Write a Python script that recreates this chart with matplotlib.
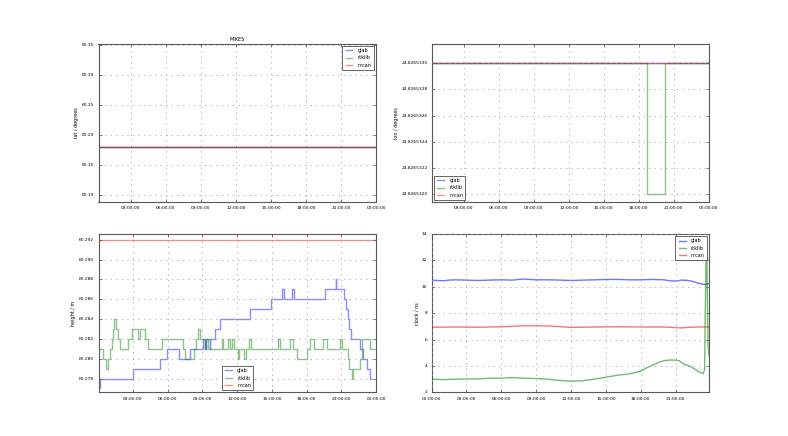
import datetime
import matplotlib
matplotlib.use('Agg')
import matplotlib.pyplot as plt
import matplotlib.dates as mdates
from matplotlib.ticker import FormatStrFormatter

plt.style.use('classic')

base = datetime.datetime(2015, 1, 1)

# lat / lon (hours, degrees)
lat_hours = [0.25, 24.0]
lat_glab = [60.1805, 60.1805]
lat_rtklib = [60.1805, 60.1805]
lat_nrcan = [60.1805, 60.1805]

lon_hours = [0.25, 24.0]
lon_glab = [24.8265330, 24.8265330]
lon_nrcan = [24.8265330, 24.8265330]
lon_rtklib_hours = [0.25, 18.69, 20.27, 24.0]
lon_rtklib = [24.8265330, 24.8265320, 24.8265330, 24.8265330]

# height steps (start hour, value)
hgt_glab_hours = [0.0, 0.15, 3.0, 5.33, 5.9, 6.95, 7.9, 9.07, 9.25, 9.32, 9.62, 9.68,
                  10.08, 10.5, 13.1, 14.95, 15.85, 16.05, 16.77, 16.94, 19.6, 20.5,
                  20.58, 21.2, 21.4, 21.55, 21.7, 21.8, 22.6, 22.9, 23.2, 23.5, 23.6]
hgt_glab = [60.277, 60.278, 60.279, 60.280, 60.281, 60.280, 60.281, 60.282, 60.281,
            60.282, 60.281, 60.282, 60.283, 60.284, 60.285, 60.286, 60.287, 60.286,
            60.287, 60.286, 60.287, 60.288, 60.287, 60.286, 60.285, 60.284, 60.283,
            60.282, 60.281, 60.280, 60.279, 60.278, 60.278]

hgt_rtklib_hours = [0.0, 0.43, 0.63, 0.86, 1.0, 1.15, 1.3, 1.38, 1.5, 1.73, 1.87, 2.6,
                    2.88, 3.46, 3.6, 4.03, 4.3, 5.47, 7.35, 7.5, 8.3, 8.45, 8.65, 8.75,
                    9.2, 9.35, 9.5, 10.66, 10.8, 11.2, 11.35, 11.55, 11.7, 12.1, 12.2,
                    12.6, 12.8, 12.98, 13.2, 15.5, 15.7, 16.6, 16.8, 17.15, 18.0, 18.3,
                    18.6, 19.45, 19.75, 20.9, 21.04, 21.6, 21.7, 21.96, 22.03, 22.6,
                    22.77, 23.5, 24.0]
hgt_rtklib = [60.281, 60.280, 60.279, 60.280, 60.281, 60.282, 60.283, 60.284, 60.283,
              60.282, 60.281, 60.282, 60.283, 60.282, 60.283, 60.282, 60.281, 60.282,
              60.281, 60.280, 60.281, 60.282, 60.283, 60.282, 60.281, 60.282, 60.281,
              60.282, 60.281, 60.282, 60.281, 60.282, 60.281, 60.280, 60.281, 60.280,
              60.281, 60.282, 60.281, 60.282, 60.281, 60.282, 60.281, 60.280, 60.281,
              60.282, 60.281, 60.282, 60.281, 60.282, 60.281, 60.280, 60.279, 60.278,
              60.279, 60.280, 60.282, 60.281, 60.281]

hgt_nrcan_hours = [0.0, 24.0]
hgt_nrcan = [60.292, 60.292]

# clock (hours, ns)
clk_glab_hours = [0, 0.5, 1, 1.5, 2, 3, 4, 5, 6, 7, 7.5, 8, 9, 10, 11, 12, 13, 14, 15,
                  16, 17, 18, 19, 20, 20.5, 21, 21.5, 22, 22.5, 23, 23.4, 23.7, 23.9]
clk_glab = [10.5, 10.47, 10.45, 10.5, 10.52, 10.5, 10.47, 10.5, 10.52, 10.5, 10.55,
            10.58, 10.52, 10.52, 10.5, 10.47, 10.5, 10.52, 10.55, 10.55, 10.52, 10.52,
            10.55, 10.52, 10.45, 10.42, 10.5, 10.48, 10.4, 10.25, 10.18, 10.2, 10.25]

clk_rtklib_hours = [0, 1, 2, 3, 4, 5, 6, 7, 8, 9, 10, 11, 12, 13, 14, 15, 16, 17, 18,
                    18.5, 19, 19.5, 20, 20.5, 21, 21.3, 21.7, 22.2, 22.7, 23.0, 23.2,
                    23.35, 23.5, 23.62, 23.7, 23.8, 23.9]
clk_rtklib = [3.0, 2.97, 3.0, 3.02, 3.02, 3.07, 3.08, 3.12, 3.07, 3.05, 3.0, 2.9, 2.85,
              2.88, 3.0, 3.15, 3.3, 3.4, 3.6, 3.85, 4.05, 4.25, 4.4, 4.45, 4.45, 4.4,
              4.15, 4.0, 3.75, 3.55, 3.5, 3.4, 3.7, 11.8, 12.3, 5.6, 4.7]

clk_nrcan_hours = [0, 2, 4, 6, 8, 10, 11, 12, 14, 16, 18, 20, 21.5, 22, 23, 23.9]
clk_nrcan = [6.93, 6.95, 6.93, 6.97, 7.05, 7.03, 6.98, 6.92, 6.95, 6.97, 6.95, 6.95,
             6.88, 6.92, 6.95, 6.95]


def t(hours):
    return [base + datetime.timedelta(hours=h) for h in hours]


fig, axs = plt.subplots(2, 2, figsize=(7.88, 4.36), dpi=100)
fig.patch.set_facecolor('white')
fs = 3.2
lfs = 3.5
a = 0.45

ax = axs[0, 0]
ax.plot(t(lat_hours), lat_glab, 'b-', alpha=a, label='glab')
ax.plot(t(lat_hours), lat_rtklib, 'g-', alpha=a, label='rtklib')
ax.plot(t(lat_hours), lat_nrcan, 'r-', alpha=a, label='nrcan')
ax.set_ylim(60.088, 60.353)
ax.set_xlim(t([0.25, 24.001]))
ax.yaxis.set_major_formatter(FormatStrFormatter('%.2f'))
ax.set_ylabel('lat / degrees', fontsize=lfs, labelpad=2)
ax.set_title('MIKES', fontsize=lfs, pad=2)
ax.legend(loc='upper right', fontsize=lfs)

ax = axs[0, 1]
ax.plot(t(lon_hours), lon_glab, 'b-', alpha=a, label='glab')
ax.plot(t(lon_rtklib_hours), lon_rtklib, 'g-', alpha=a, label='rtklib', drawstyle='steps-post')
ax.plot(t(lon_hours), lon_nrcan, 'r-', alpha=a, label='nrcan')
ax.set_ylim(24.82653194, 24.82653315)
ax.set_xlim(t([0.22, 24.05]))
ax.yaxis.set_major_formatter(FormatStrFormatter('%.7f'))
ax.set_ylabel('lon / degrees', fontsize=lfs, labelpad=1.5)
ax.legend(loc='lower left', fontsize=lfs)

ax = axs[1, 0]
ax.step(t(hgt_glab_hours), hgt_glab, 'b-', where='post', alpha=a, label='glab')
ax.step(t(hgt_rtklib_hours), hgt_rtklib, 'g-', where='post', alpha=a, label='rtklib')
ax.plot(t(hgt_nrcan_hours), hgt_nrcan, 'r-', alpha=a, label='nrcan')
ax.set_ylim(60.2766, 60.2926)
ax.set_xlim(t([0.02, 24.001]))
ax.set_yticks([60.278, 60.280, 60.282, 60.284, 60.286, 60.288, 60.290, 60.292])
ax.yaxis.set_major_formatter(FormatStrFormatter('%.3f'))
ax.set_ylabel('height / m', fontsize=lfs, labelpad=2)
ax.legend(loc='lower center', fontsize=lfs)

ax = axs[1, 1]
ax.plot(t(clk_glab_hours), clk_glab, 'b-', alpha=a + 0.1, label='glab')
ax.plot(t(clk_rtklib_hours), clk_rtklib, 'g-', alpha=a + 0.1, label='rtklib')
ax.plot(t(clk_nrcan_hours), clk_nrcan, 'r-', alpha=a + 0.1, label='nrcan')
ax.set_ylim(2, 14)
ax.set_xlim(t([0.0, 23.9]))
ax.set_ylabel('clock / ns', fontsize=lfs, labelpad=2)
ax.legend(loc='upper right', fontsize=lfs)

for ax in axs.flat:
    ax.grid(True, color='0.6', linestyle=':', linewidth=0.5)
    ax.xaxis.set_major_locator(mdates.HourLocator(byhour=range(0, 24, 3)))
    ax.xaxis.set_major_formatter(mdates.DateFormatter('%H:%M:%S'))
    ax.tick_params(labelsize=fs, pad=3, length=2.5, width=0.5, color='0.3')
    for s in ax.spines.values():
        s.set_color('0.35')
        s.set_linewidth(0.8)
    leg = ax.get_legend()
    leg.get_frame().set_linewidth(0.6)
    leg.get_frame().set_edgecolor('0.3')

fig.savefig('out.png', dpi=100, facecolor='white')
